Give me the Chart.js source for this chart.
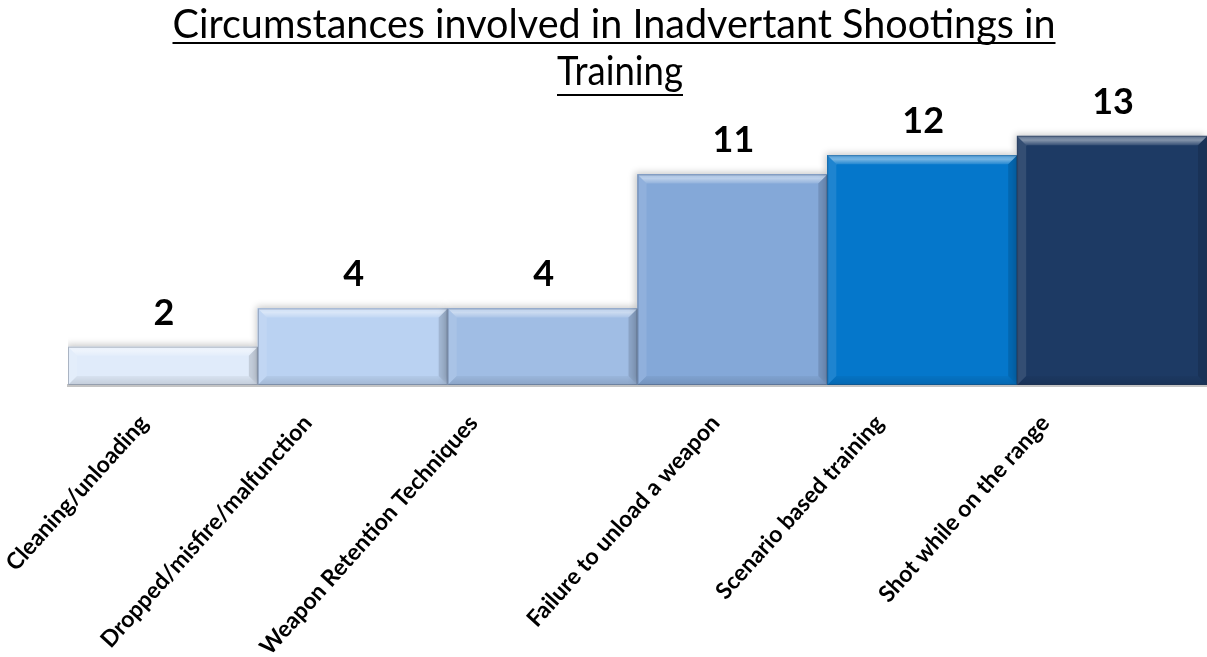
<!DOCTYPE html>
<html>
<head>
<meta charset="utf-8">
<script src="https://cdn.jsdelivr.net/npm/chart.js@4.4.1/dist/chart.umd.min.js"></script>
<style>
  html, body { margin: 0; padding: 0; background: #ffffff; }
  #wrap { width: 1207px; height: 657px; position: relative; }
</style>
</head>
<body>
<div id="wrap"><canvas id="c" width="1207" height="657"></canvas></div>
<script>
const titleLines = ["Circumstances involved in Inadvertant Shootings in", "Training"];
const categories = [
  "Cleaning/unloading",
  "Dropped/misfire/malfunction",
  "Weapon Retention Techniques",
  "Failure to unload a weapon",
  "Scenario based training",
  "Shot while on the range"
];
const counts = [2, 4, 4, 11, 12, 13];

const FONT = "Lato, 'Open Sans', 'DejaVu Sans', sans-serif";
// horizontal nudge of each rotated category label relative to its tick (style only)
const labelNudge = [-19, -45, -69, -17, -43, -67];
const labelAngle = 48 * Math.PI / 180;

const titlePlugin = {
  id: 'underlinedTitle',
  afterDraw(chart) {
    const ctx = chart.ctx;
    ctx.save();
    ctx.fillStyle = '#000';
    ctx.strokeStyle = '#000';
    ctx.textAlign = 'center';
    ctx.textBaseline = 'alphabetic';
    ctx.font = "40px " + FONT;
    const specs = [
      { text: titleLines[0], cx: 614, y: 38, ul: 43, maxW: 883 },
      { text: titleLines[1], cx: 620, y: 85, ul: 95, maxW: 126 }
    ];
    specs.forEach(s => {
      let w = ctx.measureText(s.text).width;
      if (w > s.maxW) { ctx.fillText(s.text, s.cx, s.y, s.maxW); w = s.maxW; }
      else { ctx.fillText(s.text, s.cx, s.y); }
      ctx.lineWidth = 2;
      ctx.beginPath();
      ctx.moveTo(s.cx - w / 2, s.ul);
      ctx.lineTo(s.cx + w / 2, s.ul);
      ctx.stroke();
    });
    ctx.restore();
  }
};

const categoryLabelPlugin = {
  id: 'categoryLabels',
  afterDraw(chart) {
    const ctx = chart.ctx;
    const xs = chart.scales.x;
    ctx.save();
    ctx.fillStyle = '#000';
    ctx.font = "bold 23px " + FONT;
    ctx.textAlign = 'right';
    ctx.textBaseline = 'middle';
    categories.forEach((lab, i) => {
      const px = xs.getPixelForTick(i) + labelNudge[i];
      const py = xs.top + 34;
      ctx.save();
      ctx.translate(px, py);
      ctx.rotate(-labelAngle);
      ctx.fillText(lab, 0, 0);
      ctx.restore();
    });
    ctx.restore();
  }
};

const shadowPlugin = {
  id: 'barShadow',
  beforeDatasetsDraw(chart) {
    const ctx = chart.ctx;
    ctx.save();
    ctx.shadowColor = 'rgba(0,0,0,0.22)';
    ctx.shadowBlur = 7;
    ctx.shadowOffsetX = -2;
    ctx.shadowOffsetY = -2;
  },
  afterDatasetsDraw(chart) {
    chart.ctx.restore();
    const ctx = chart.ctx;
    const meta = chart.getDatasetMeta(0);
    ctx.save();
    meta.data.forEach((el) => {
      const p = el.getProps(['x', 'y', 'base', 'width'], true);
      const l = p.x - p.width / 2, r = p.x + p.width / 2, t = p.y, b = p.base;
      const k = Math.min(9, (b - t) / 2);
      const g = ctx.createLinearGradient(0, t, 0, t + k);
      g.addColorStop(0, 'rgba(255,255,255,0.30)');
      g.addColorStop(0.45, 'rgba(255,255,255,0.45)');
      g.addColorStop(1, 'rgba(255,255,255,0.12)');
      ctx.fillStyle = g;
      ctx.beginPath();
      ctx.moveTo(l, t); ctx.lineTo(r, t); ctx.lineTo(r - k, t + k); ctx.lineTo(l + k, t + k); ctx.closePath();
      ctx.fill();
      ctx.fillStyle = 'rgba(255,255,255,0.10)';
      ctx.beginPath();
      ctx.moveTo(l, t); ctx.lineTo(l + k, t + k); ctx.lineTo(l + k, b - k); ctx.lineTo(l, b); ctx.closePath();
      ctx.fill();
      ctx.fillStyle = 'rgba(0,0,0,0.12)';
      ctx.beginPath();
      ctx.moveTo(r, t); ctx.lineTo(r - k, t + k); ctx.lineTo(r - k, b - k); ctx.lineTo(r, b); ctx.closePath();
      ctx.fill();
      const gb = ctx.createLinearGradient(0, b - k, 0, b);
      gb.addColorStop(0, 'rgba(0,0,0,0.04)');
      gb.addColorStop(1, 'rgba(0,0,0,0.13)');
      ctx.fillStyle = gb;
      ctx.beginPath();
      ctx.moveTo(l, b); ctx.lineTo(l + k, b - k); ctx.lineTo(r - k, b - k); ctx.lineTo(r, b); ctx.closePath();
      ctx.fill();
      ctx.strokeStyle = 'rgba(40,50,70,0.30)';
      ctx.lineWidth = 1;
      ctx.strokeRect(l + 0.5, t + 0.5, p.width - 1, b - t - 1);
    });
    ctx.fillStyle = '#000';
    ctx.font = "bold 36px " + FONT;
    ctx.textAlign = 'center';
    ctx.textBaseline = 'alphabetic';
    meta.data.forEach((el, i) => {
      const p = el.getProps(['x', 'y'], true);
      ctx.fillText(String(counts[i]), p.x + 1, p.y - 22);
    });
    ctx.restore();
  }
};

new Chart(document.getElementById('c'), {
  type: 'bar',
  data: {
    labels: categories,
    datasets: [{
      data: counts,
      backgroundColor: ['#e0ebfa', '#bad2f2', '#a0bde4', '#84a8d8', '#0577cb', '#1d3a64'],
      borderWidth: 0,
      categoryPercentage: 1.0,
      barPercentage: 1.0
    }]
  },
  options: {
    responsive: false,
    animation: false,
    devicePixelRatio: 1,
    layout: { padding: { left: 68, right: 0, top: 117, bottom: 0 } },
    plugins: {
      legend: { display: false },
      title: { display: false },
      tooltip: { enabled: false }
    },
    scales: {
      y: {
        display: false,
        min: 0,
        max: 14
      },
      x: {
        grid: { display: false, drawTicks: false },
        border: { display: true, color: '#c4c4c4', width: 3 },
        ticks: { display: false },
        afterFit(scale) { scale.height = 272; }
      }
    }
  },
  plugins: [shadowPlugin, titlePlugin, categoryLabelPlugin]
});
</script>
</body>
</html>
